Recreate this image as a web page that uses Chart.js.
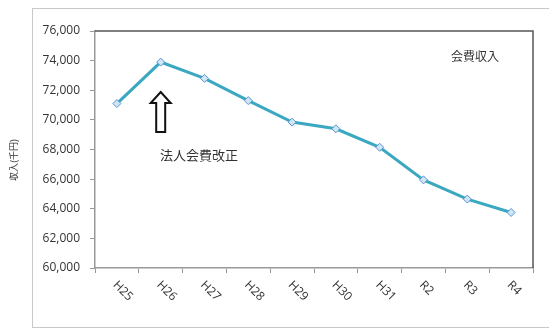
<!DOCTYPE html>
<html>
<head>
<meta charset="utf-8">
<script src="https://cdn.jsdelivr.net/npm/chart.js@4"></script>
<style>
  html, body { margin: 0; padding: 0; background: #fff; }
  #wrap { width: 549px; height: 329px; position: relative; }
</style>
</head>
<body>
<div id="wrap"><canvas id="chartKaihi"></canvas></div>
<script>
// ---- data ----
const nendo = ["H25", "H26", "H27", "H28", "H29", "H30", "H31", "R2", "R3", "R4"];
const kaihiShunyu = [71100, 73900, 72800, 71300, 69850, 69400, 68150, 65950, 64650, 63750];
const yTicks = [60000, 62000, 64000, 66000, 68000, 70000, 72000, 74000, 76000];
const seriesName = "会費収入";
const yTitle = "収入(千円)";
const noteText = "法人会費改正";

const jpFont = '"Noto Sans CJK JP", sans-serif';

const decoPlugin = {
  id: "deco",
  beforeDraw(chart) {
    const ctx = chart.ctx;
    ctx.save();
    ctx.fillStyle = "#fff";
    ctx.fillRect(0, 0, chart.width, chart.height);
    // outer frame
    ctx.strokeStyle = "#c8c8c8";
    ctx.lineWidth = 1;
    ctx.strokeRect(32.5, 8.5, 600, 319);
    ctx.restore();
  },
  afterDraw(chart) {
    const ctx = chart.ctx;
    const a = chart.chartArea;
    const xs = chart.scales.x;
    ctx.save();
    // top + right border of plot
    ctx.strokeStyle = "#555";
    ctx.lineWidth = 1.5;
    ctx.beginPath();
    ctx.moveTo(a.left, a.top);
    ctx.lineTo(a.right, a.top);
    ctx.lineTo(a.right, a.bottom);
    ctx.stroke();

    // rotated category labels
    ctx.fillStyle = "#333";
    ctx.font = '12px "Open Sans", sans-serif';
    ctx.textAlign = "left";
    ctx.textBaseline = "middle";
    nendo.forEach((lbl, i) => {
      const x = xs.getPixelForTick(i);
      ctx.save();
      ctx.translate(x - 2, a.bottom + 15);
      ctx.rotate(Math.PI / 4);
      ctx.fillText(lbl, 0, 0);
      ctx.restore();
    });

    // y title
    ctx.save();
    ctx.translate(14, 160);
    ctx.rotate(-Math.PI / 2);
    ctx.textAlign = "center";
    ctx.font = "9px " + jpFont;
    ctx.fillText(yTitle, 0, 0);
    ctx.restore();

    // series name
    ctx.font = "12px " + jpFont;
    ctx.textAlign = "left";
    ctx.fillText(seriesName, 451, 56);

    // note
    ctx.font = "13px " + jpFont;
    ctx.fillText(noteText, 160, 155);

    // hollow arrow under H26
    const cx = xs.getPixelForTick(1);
    ctx.strokeStyle = "#111";
    ctx.lineWidth = 2;
    ctx.beginPath();
    ctx.moveTo(cx, 92);
    ctx.lineTo(cx + 10, 103);
    ctx.lineTo(cx + 4.5, 103);
    ctx.lineTo(cx + 4.5, 132);
    ctx.lineTo(cx - 4.5, 132);
    ctx.lineTo(cx - 4.5, 103);
    ctx.lineTo(cx - 10, 103);
    ctx.closePath();
    ctx.stroke();
    ctx.restore();
  },
};

new Chart(document.getElementById("chartKaihi").getContext("2d"), {
  type: "line",
  data: {
    labels: nendo,
    datasets: [
      {
        label: seriesName,
        data: kaihiShunyu,
        borderColor: "#3aa8c0",
        borderWidth: 3,
        tension: 0,
        pointStyle: "rectRot",
        pointRadius: 4,
        pointBackgroundColor: "#cfe6f5",
        pointBorderColor: "#5b93cf",
        pointBorderWidth: 1,
      },
    ],
  },
  options: {
    responsive: true,
    maintainAspectRatio: false,
    animation: false,
    layout: { padding: { left: 0, top: 31, right: 16, bottom: 0 } },
    plugins: { legend: { display: false }, tooltip: { enabled: false } },
    scales: {
      x: {
        offset: true,
        border: { color: "#999", width: 1.5 },
        grid: { offset: true, drawOnChartArea: false, drawTicks: true, tickLength: 5, color: "#999" },
        ticks: { display: false },
        afterFit: (s) => { s.height = 61; },
      },
      y: {
        min: 60000,
        max: 76000,
        afterBuildTicks: (s) => { s.ticks = yTicks.map((v) => ({ value: v })); },
        border: { color: "#999", width: 1.5 },
        grid: { drawOnChartArea: false, drawTicks: true, tickLength: 5, color: "#999" },
        ticks: {
          padding: 10,
          color: "#333",
          font: { family: '"Open Sans", sans-serif', size: 12 },
          callback: (v) => v.toLocaleString("en-US"),
        },
        afterFit: (s) => { s.width = 95; },
      },
    },
  },
  plugins: [decoPlugin],
});
</script>
</body>
</html>
